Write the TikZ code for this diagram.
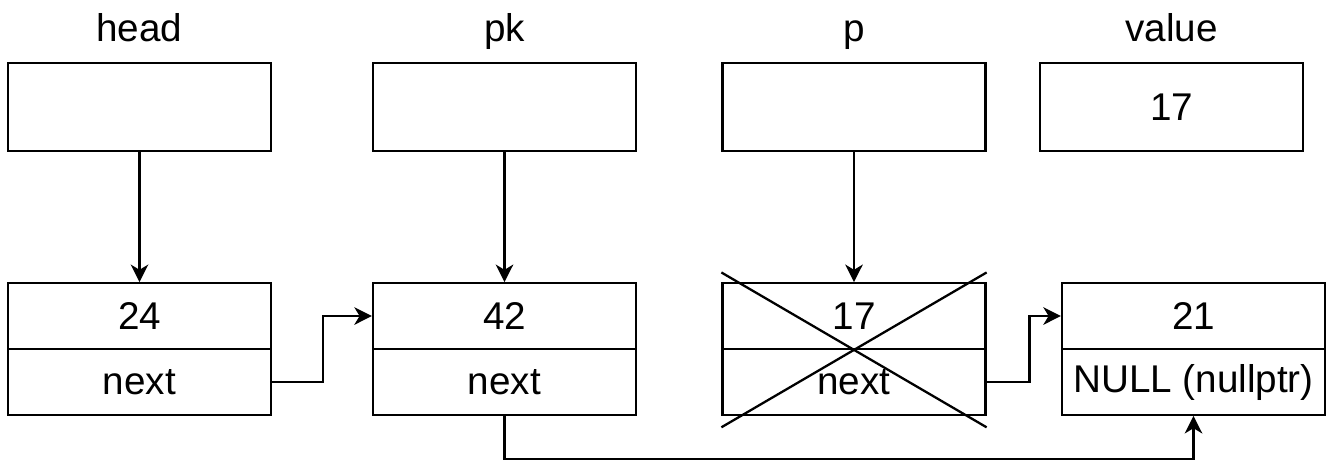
\documentclass[tikz,border=0pt]{standalone}
\usepackage{fontspec}
\setmainfont{Liberation Sans}
\usetikzlibrary{arrows.meta}

\begin{document}
\begin{tikzpicture}[
  x=0.02cm, y=-0.02cm,
  line width=1.3pt,
  every node/.style={font=\fontsize{22}{26}\selectfont,inner sep=0pt},
  lbl/.style={anchor=base},
  var/.style={draw,minimum width=5.26cm,minimum height=1.76cm},
  cell/.style={draw,minimum width=5.26cm,minimum height=1.31cm},
  ptr/.style={-{Stealth[length=10pt,width=10pt,inset=3pt]}}
]
\useasboundingbox (0,0) rectangle (1328,461);

% 変数
\node[lbl] (headlbl) at (139.5,41) {head};
\node[lbl] (pklbl) at (504.5,41) {pk};
\node[lbl] (plbl) at (854,41) {p};
\node[lbl] (valuelbl) at (1171.5,41) {value};

\node[var] (headbox) at (139.5,107) {};
\node[var] (pkbox) at (504.5,107) {};
\node[var] (pbox) at (854,107) {};
\node[var] (valuebox) at (1171.5,107) {17};

% リストの要素
\node[cell] (headval) at (139.5,316) {24};
\node[cell] (headnext) at (139.5,382) {next};
\node[cell] (pkval) at (504.5,316) {42};
\node[cell] (pknext) at (504.5,382) {next};
\node[cell] (pval) at (854,316) {17};
\node[cell] (pnext) at (854,382) {next};
\node[cell] (nullval) at (1193.5,316) {21};
\node[cell] (nullnext) at (1193.5,382) {NULL (nullptr)};

% 削除される要素
\draw ([yshift=5.5pt]pval.north west) -- ([yshift=-6.5pt]pnext.south east);
\draw ([yshift=-6.5pt]pnext.south west) -- ([yshift=5.5pt]pval.north east);

% ポインタ
\draw[ptr] (headbox.south) -- (headval.north);
\draw[ptr] (pkbox.south) -- (pkval.north);
\draw[ptr] (pbox.south) -- (pval.north);

\draw[ptr] (headnext.east) -- ++(51,0) |- (pkval.west);
\draw[ptr] (pnext.east) -- ++(43,0) |- (nullval.west);
\draw[ptr] (pknext.south) -- ++(0,43) -| (nullnext.south);

\end{tikzpicture}
\end{document}
